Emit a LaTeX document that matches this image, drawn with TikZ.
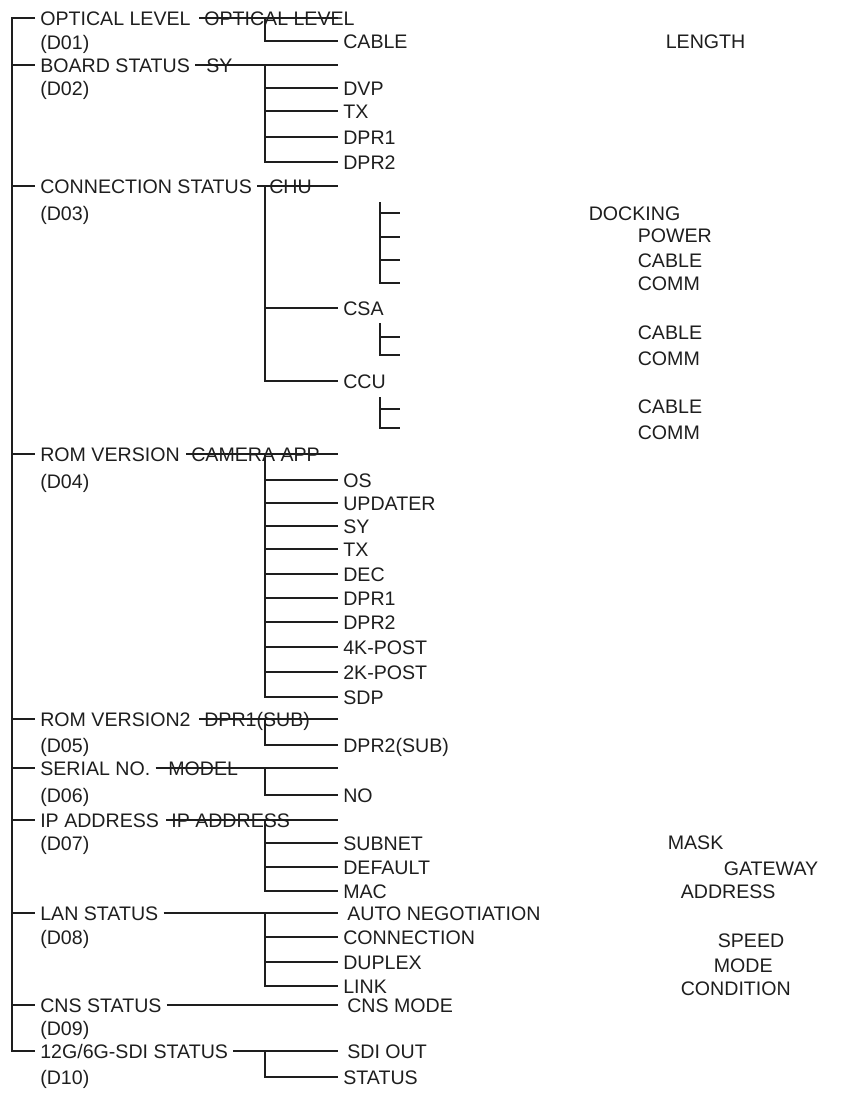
\documentclass[tikz,border=0pt]{standalone}
\usepackage{fontspec}
\setmainfont{Liberation Sans}
\usetikzlibrary{calc}
\definecolor{menuink}{RGB}{30,30,30}

\begin{document}
\begin{tikzpicture}[x=1pt,y=-1pt,line width=1.6pt,color=menuink,
  lbl/.style={anchor=west,inner xsep=4.5pt,inner ysep=0pt,
    text height=14pt,text depth=0pt,font=\fontsize{19.6}{22}\selectfont},
  wide/.style={lbl,inner xsep=8.5pt}]
\useasboundingbox (0,0) rectangle (843,1101);

% Bus columns
\coordinate (trunk) at (12,0);
\coordinate (bus) at (265,0);
\coordinate (tip) at (338,0);

% Main rows
\foreach \i/\y/\yc/\t in {01/18/42/{OPTICAL LEVEL}, 02/65/88/{BOARD STATUS},
    03/186/213/{CONNECTION STATUS}, 04/454/481/{ROM VERSION},
    05/719/745/{ROM VERSION2}, 06/768/795/{SERIAL NO.}, 07/820/843/{IP ADDRESS},
    08/913/937/{LAN STATUS}, 09/1005/1028/{CNS STATUS}, 10/1051/1077/{12G/6G-SDI STATUS}}
{
  \node[lbl] (h\i) at (35,\y) {\t};
  \node[lbl] (c\i) at (35,\yc) {(D\i)};
}
\draw (h01.west) -| (trunk |- h10.west) -- (h10.west);
\foreach \i in {02,03,04,05,06,07,08,09}
  \draw (trunk |- h\i.west) -- (h\i.west);

% D01
\node[lbl] (s01) at (199,18) {OPTICAL LEVEL};
\node[lbl] (cab) at (338,41) {CABLE};
\draw (s01.west) -- (tip |- s01.west);
\draw (bus |- s01.west) |- (cab.west);

% D02
\node[lbl] (s02) at (201,65) {SY};
\foreach \t/\y [count=\k] in {DVP/88,TX/111,DPR1/137,DPR2/162}
  \node[lbl] (bd\k) at (338,\y) {\t};
\draw (h02.east) -- (tip |- h02.east);
\draw (bus |- h02.east) |- (bd4.west);
\foreach \k in {1,2,3} \draw (bus |- bd\k.west) -- (bd\k.west);

% D03
\node[lbl] (s03) at (264,186) {CHU};
\node[lbl] (csa) at (338,308) {CSA};
\node[lbl] (ccu) at (338,381) {CCU};
\draw (h03.east) -- (tip |- h03.east);
\draw (bus |- h03.east) |- (ccu.west);
\draw (bus |- csa.west) -- (csa.west);
% small brackets
\draw (380,202) |- (400,283);
\foreach \y in {213,237,260} \draw (380,\y) -- (400,\y);
\draw (380,323) |- (400,355);
\draw (380,337) -- (400,337);
\draw (380,397) |- (400,428);
\draw (380,409) -- (400,409);

% Far right words
\foreach \t/\x/\y [count=\k] in {LENGTH/665/41, DOCKING/588/213, POWER/637/235,
    CABLE/637/260, COMM/637/283, CABLE/637/332, COMM/637/358, CABLE/637/406,
    COMM/637/432, MASK/667/842, GATEWAY/723/868, ADDRESS/680/891,
    SPEED/717/940, MODE/713/965, CONDITION/680/988}
  \node[lbl] (far\k) at (\x-4.5,\y) {\t};

% D04
\node[lbl] (s04) at (186,454) {CAMERA APP};
\foreach \t/\y [count=\k] in {OS/480,UPDATER/503,SY/526,TX/549,DEC/574,
    DPR1/598,DPR2/622,4K-POST/647,2K-POST/672,SDP/697}
  \node[lbl] (rv\k) at (338,\y) {\t};
\draw (s04.west) -- (tip |- s04.west);
\draw (bus |- s04.west) |- (rv10.west);
\foreach \k in {1,...,9} \draw (bus |- rv\k.west) -- (rv\k.west);

% D05
\node[lbl] (s05) at (199,719) {DPR1(SUB)};
\node[lbl] (dsub) at (338,745) {DPR2(SUB)};
\draw (s05.west) -- (tip |- s05.west);
\draw (bus |- s05.west) |- (dsub.west);

% D06
\node[lbl] (s06) at (163,768) {MODEL};
\node[lbl] (sno) at (338,795) {NO};
\draw (h06.east) -- (tip |- h06.east);
\draw (bus |- h06.east) |- (sno.west);

% D07
\node[lbl] (s07) at (166,820) {IP ADDRESS};
\foreach \t/\y [count=\k] in {SUBNET/843,DEFAULT/867,MAC/891}
  \node[lbl] (ip\k) at (338,\y) {\t};
\draw (s07.west) -- (tip |- s07.west);
\draw (bus |- s07.west) |- (ip3.west);
\foreach \k in {1,2} \draw (bus |- ip\k.west) -- (ip\k.west);

% D08
\node[wide] (auto) at (338,913) {AUTO NEGOTIATION};
\foreach \t/\y [count=\k] in {CONNECTION/937,DUPLEX/962,LINK/986}
  \node[lbl] (lan\k) at (338,\y) {\t};
\draw (h08.east) -- (auto.west);
\draw (bus |- h08.east) |- (lan3.west);
\foreach \k in {1,2} \draw (bus |- lan\k.west) -- (lan\k.west);

% D09
\node[wide] (cns) at (338,1005) {CNS MODE};
\draw (h09.east) -- (cns.west);

% D10
\node[wide] (sdi) at (338,1051) {SDI OUT};
\node[lbl] (sts) at (338,1077) {STATUS};
\draw (h10.east) -- (sdi.west);
\draw (bus |- h10.east) |- (sts.west);
\end{tikzpicture}
\end{document}
